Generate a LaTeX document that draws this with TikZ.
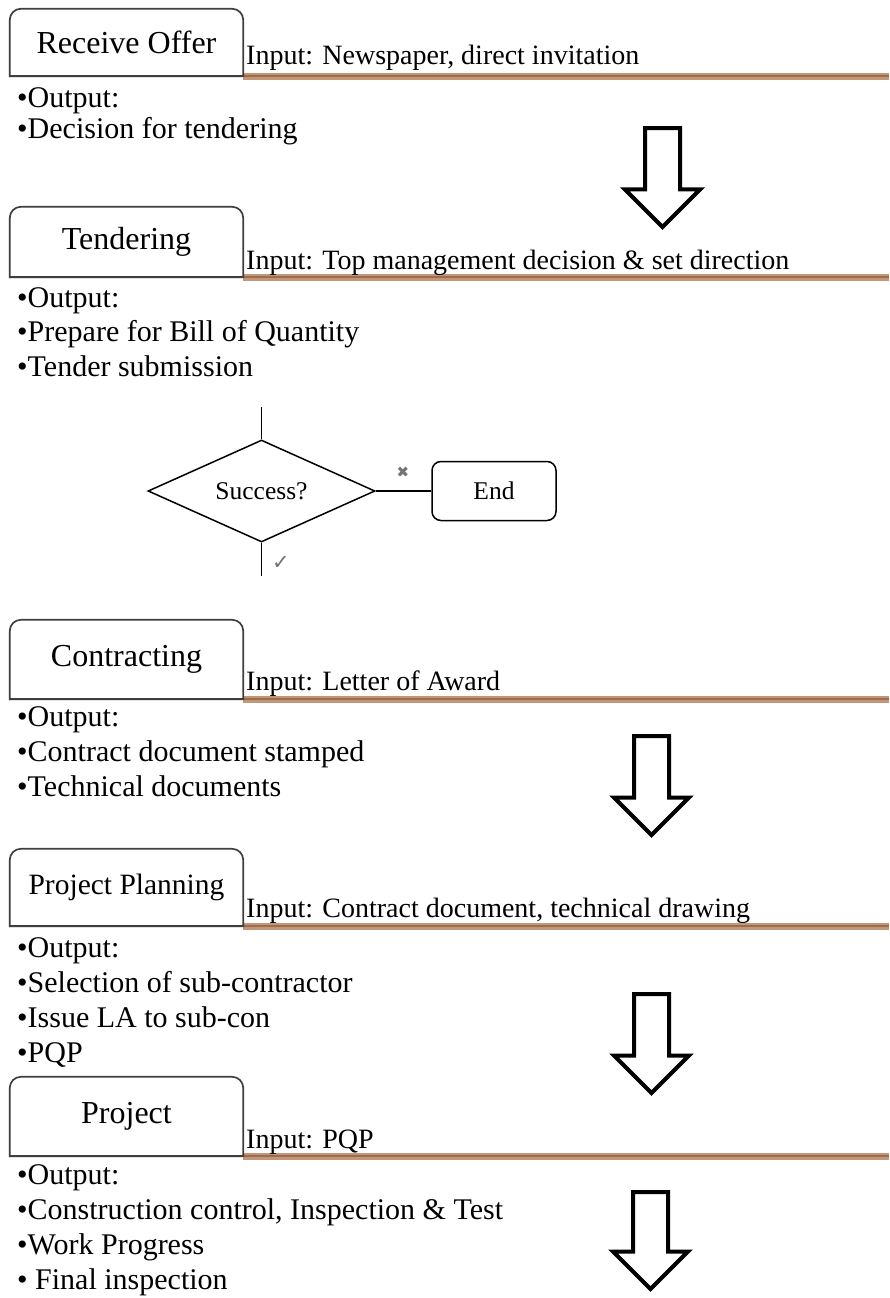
\documentclass[tikz,border=0pt]{standalone}
\usepackage{fontspec}
\setmainfont{Liberation Serif}
\newfontfamily\dejavu{DejaVu Sans}
\usetikzlibrary{shapes.geometric,shapes.arrows,shadows,backgrounds}
\definecolor{ruleout}{RGB}{194,150,118}
\definecolor{rulein}{RGB}{155,108,78}
\definecolor{tabline}{RGB}{62,62,62}

\begin{document}
\begin{tikzpicture}[x=1pt, y=-1pt,
        stage/.style={minimum width=233, inner sep=0, font=\fontsize{32}{38}\selectfont},
        tab/.style={draw=tabline, line width=1.7, line cap=rect, fill=white, rounded corners=11,
            drop shadow={shadow xshift=-1pt, shadow yshift=-1.5pt, opacity=.35}},
        tabfoot/.style={draw=tabline, line width=1.7, line cap=rect},
        inlabel/.style={anchor=base west, inner sep=0, font=\fontsize{28}{33}\selectfont},
        outlabel/.style={anchor=base west, inner sep=0, font=\fontsize{30}{36}\selectfont},
        rule/.style={draw=ruleout, double=rulein, double distance=2.5, line width=2.25},
        downarrow/.style={single arrow, rotate=-90, anchor=tail, draw, fill=white, line width=4,
            line join=miter, minimum height=99, minimum width=71, inner xsep=0, inner ysep=15.5,
            single arrow head extend=20},
        decision/.style={diamond, draw, line width=1.5, minimum width=227, minimum height=102,
            aspect=2.2, inner sep=0, font=\fontsize{25.5}{30}\selectfont},
        stopbox/.style={rectangle, draw, line width=1.5, rounded corners=9, minimum width=124,
            minimum height=59, font=\fontsize{25.5}{30}\selectfont},
        link/.style={line width=1.5},
        marktext/.style={text=black!55, inner sep=0}]

        \useasboundingbox (0,0) rectangle (889,1298);
        \coordinate (rightend) at (889,0);

        % receive offer
        \node[stage, minimum height=67] (offer) at (126.5,42.5) {Receive Offer};
        \node[inlabel]  (offerin)  at (246,65)  {Input: Newspaper, direct invitation};
        \node[outlabel] (offerout) at (17,107)  {•Output:};
        \node[outlabel] (offerdec) at (17,138)  {•Decision for tendering};
        \node[downarrow] (arrow1)  at (662.5,126) {};

        % tendering
        \node[stage, minimum height=70] (tender) at (126.5,242) {Tendering};
        \node[inlabel]  (tenderin)  at (246,269) {Input: Top management decision \& set direction};
        \node[outlabel] (tenderout) at (17,307)  {•Output:};
        \node[outlabel] (tenderboq) at (17,341)  {•Prepare for Bill of Quantity};
        \node[outlabel] (tendersub) at (17,376)  {•Tender submission};

        % success?
        \coordinate (succtop) at (261.5,407);
        \node[decision] (succ) at (261.5,491) {Success?};
        \coordinate (succbot) at (261.5,576);
        \node[stopbox] (finish) at (494,491) {End};
        \node[marktext, font=\dejavu\fontsize{15}{18}\selectfont] (no)  at (403,472) {✖};
        \node[marktext, font=\dejavu\fontsize{21}{24}\selectfont] (yes) at (281,563) {✓};
        \draw[link] (succtop) -- (succ) (succ) -- (finish) (succ) -- (succbot);

        % contracting
        \node[stage, minimum height=79] (contract) at (126.5,659.5) {Contracting};
        \node[inlabel]  (contractin)   at (246,690) {Input: Letter of Award};
        \node[outlabel] (contractout)  at (17,726)  {•Output:};
        \node[outlabel] (contractdoc)  at (17,761)  {•Contract document stamped};
        \node[outlabel] (contracttech) at (17,796)  {•Technical documents};
        \node[downarrow] (arrow2) at (651.5,734) {};

        % project planning
        \node[stage, minimum height=77, font=\fontsize{29.5}{35}\selectfont] (plan) at (126.5,887.5) {Project Planning};
        \node[inlabel]  (planin)  at (246,917)  {Input: Contract document, technical drawing};
        \node[outlabel] (planout) at (17,957)   {•Output:};
        \node[outlabel] (plansub) at (17,992)   {•Selection of sub-contractor};
        \node[outlabel] (planla)  at (17,1027)  {•Issue LA to sub-con};
        \node[outlabel] (planpqp) at (17,1062)  {•PQP};
        \node[downarrow] (arrow3) at (651.5,992) {};

        % project
        \node[stage, minimum height=79] (project) at (126.5,1116.5) {Project};
        \node[inlabel]  (projectin)    at (246,1148) {Input: PQP};
        \node[outlabel] (projectout)   at (17,1184)  {•Output:};
        \node[outlabel] (projectctrl)  at (17,1219)  {•Construction control, Inspection \& Test};
        \node[outlabel] (projectprog)  at (17,1254)  {•Work Progress};
        \node[outlabel] (projectfinal) at (17,1289)  {• Final inspection};
        \node[downarrow, minimum height=97] (arrow4) at (650.5,1190) {};

        \begin{scope}[on background layer]
            \draw[rule] (offer.south east) -- (offer.south east -| rightend);
            \draw[rule] (tender.south east) -- (tender.south east -| rightend);
            \draw[rule] (contract.south east) -- (contract.south east -| rightend);
            \draw[rule] (plan.south east) -- (plan.south east -| rightend);
            \draw[rule] (project.south east) -- (project.south east -| rightend);

            \filldraw[tab] (offer.south west) |- (offer.north east) -- (offer.south east);
            \draw[tabfoot] (offer.south east) -- (offer.south west);
            \filldraw[tab] (tender.south west) |- (tender.north east) -- (tender.south east);
            \draw[tabfoot] (tender.south east) -- (tender.south west);
            \filldraw[tab] (contract.south west) |- (contract.north east) -- (contract.south east);
            \draw[tabfoot] (contract.south east) -- (contract.south west);
            \filldraw[tab] (plan.south west) |- (plan.north east) -- (plan.south east);
            \draw[tabfoot] (plan.south east) -- (plan.south west);
            \filldraw[tab] (project.south west) |- (project.north east) -- (project.south east);
            \draw[tabfoot] (project.south east) -- (project.south west);
        \end{scope}

    \end{tikzpicture}
\end{document}
